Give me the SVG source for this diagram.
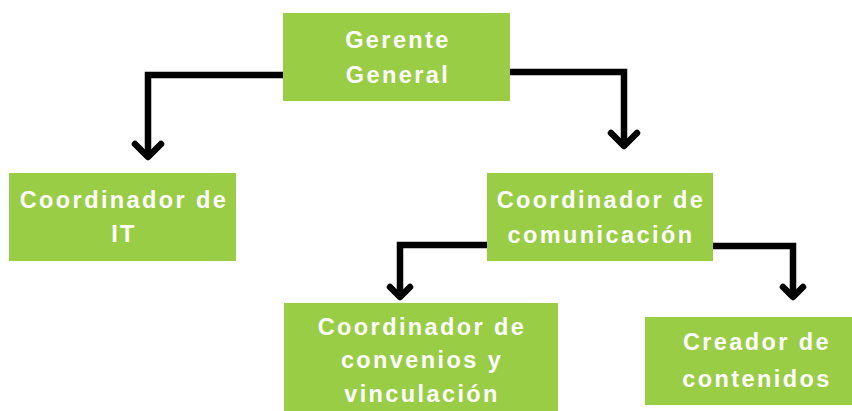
<svg xmlns="http://www.w3.org/2000/svg" width="852" height="411" viewBox="0 0 852 411">
<style>
.box{fill:#9ACD46}
.t{font-family:"Liberation Sans",Arial,sans-serif;font-weight:bold;font-size:23.5px;fill:#fff;text-anchor:middle;letter-spacing:2.4px}
.c{fill:none;stroke:#000;stroke-width:6.5;stroke-linejoin:miter}
.a{fill:none;stroke:#000;stroke-width:6.5;stroke-linecap:round;stroke-linejoin:round}
</style>
<rect width="852" height="411" fill="#fff"/>
<g id="connectors">
<polyline class="c" points="283,75 148,75 148,156"/>
<polyline class="a" points="135,144 148,157 161,144"/>
<polyline class="c" points="510,72 624,72 624,145"/>
<polyline class="a" points="611,133 624,146 637,133"/>
<polyline class="c" points="487,245 400,245 400,297"/>
<polyline class="a" points="390,287 400,297 410,287"/>
<polyline class="c" points="713,246 793,246 793,297"/>
<polyline class="a" points="783,287 793,297 803,287"/>
</g>
<g id="gerente">
<rect class="box" x="283" y="13" width="227" height="88"/>
<text class="t" x="398" y="48">Gerente</text>
<text class="t" x="398" y="83">General</text>
</g>
<g id="coord-it">
<rect class="box" x="9" y="173" width="227" height="88"/>
<text class="t" x="124" y="208">Coordinador de</text>
<text class="t" x="124" y="242">IT</text>
</g>
<g id="coord-com">
<rect class="box" x="487" y="173" width="226" height="88"/>
<text class="t" x="601" y="208">Coordinador de</text>
<text class="t" x="601" y="243">comunicación</text>
</g>
<g id="coord-conv">
<rect class="box" x="284" y="303" width="274" height="108"/>
<text class="t" x="422" y="335">Coordinador de</text>
<text class="t" x="422" y="368">convenios y</text>
<text class="t" x="422" y="402">vinculación</text>
</g>
<g id="creador">
<rect class="box" x="645" y="317" width="207" height="88"/>
<text class="t" x="757" y="350">Creador de</text>
<text class="t" x="757" y="387">contenidos</text>
</g>
</svg>
